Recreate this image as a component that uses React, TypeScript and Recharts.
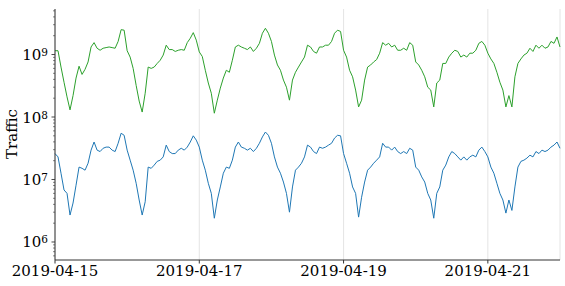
import { LineChart, Line, XAxis, YAxis, CartesianGrid } from 'recharts'

const FONT = '"DejaVu Serif", serif'
const AXIS_COLOR = '#333333'

// hourly samples, 2019-04-15 00:00 .. 2019-04-22 00:00
const GREEN_TRAFFIC = [
  1.15e9, 1.15e9, 6.3e8, 3.6e8, 2.1e8, 1.3e8, 2.2e8, 4.2e8, 6.5e8, 4.8e8, 5.8e8, 7.6e8,
  1.32e9, 1.55e9, 1.26e9, 1.17e9, 1.26e9, 1.29e9, 1.32e9, 1.29e9, 1.26e9, 1.62e9, 2.5e9, 2.45e9,
  1.15e9, 9.1e8, 6.0e8, 3.2e8, 1.8e8, 1.2e8, 2.4e8, 6.3e8, 6.0e8, 6.3e8, 7.2e8, 8.1e8,
  9.8e8, 1.41e9, 1.2e9, 1.2e9, 1.12e9, 1.17e9, 1.2e9, 1.17e9, 1.55e9, 1.82e9, 2.24e9, 1.7e9,
  1.1e9, 9.3e8, 5.6e8, 3.5e8, 2.4e8, 1.15e8, 1.86e8, 2.9e8, 4.2e8, 5.6e8, 5.2e8, 8.1e8,
  1.32e9, 1.41e9, 1.32e9, 1.26e9, 1.2e9, 1.32e9, 1.12e9, 1.26e9, 1.51e9, 2.19e9, 2.63e9, 2.19e9,
  1.62e9, 9.8e8, 6.8e8, 5.6e8, 3.9e8, 3.0e8, 1.86e8, 3.9e8, 5.2e8, 6.3e8, 7.6e8, 9.1e8,
  1.41e9, 1.32e9, 1.12e9, 1.05e9, 1.32e9, 1.32e9, 1.41e9, 1.41e9, 1.62e9, 2.19e9, 2.45e9, 2.34e9,
  1.17e9, 9.1e8, 5.6e8, 4.4e8, 2.7e8, 1.45e8, 1.86e8, 3.9e8, 6.3e8, 6.8e8, 7.6e8, 8.3e8,
  1.05e9, 1.55e9, 1.41e9, 1.51e9, 1.32e9, 1.41e9, 1.17e9, 1.17e9, 1.26e9, 1.17e9, 1.55e9, 1.41e9,
  7.6e8, 6.8e8, 5.6e8, 4.4e8, 3.0e8, 2.7e8, 1.45e8, 3.5e8, 3.9e8, 7.2e8, 7.2e8, 9.1e8,
  1.05e9, 1.17e9, 1.12e9, 9.1e8, 9.8e8, 9.1e8, 1.05e9, 1.05e9, 1.17e9, 1.51e9, 1.62e9, 1.41e9,
  1.05e9, 8.5e8, 7.2e8, 5.2e8, 3.6e8, 2.7e8, 1.45e8, 2.2e8, 1.45e8, 4.4e8, 7.2e8, 8.5e8,
  9.8e8, 1.05e9, 1.26e9, 1.12e9, 1.41e9, 1.26e9, 1.41e9, 1.26e9, 1.32e9, 1.62e9, 1.51e9, 1.91e9,
  1.32e9,
]

const BLUE_TRAFFIC = [
  2.6e7, 2.3e7, 1.26e7, 6.8e6, 6.0e6, 2.7e6, 4.2e6, 8.1e6, 1.58e7, 1.51e7, 1.41e7, 1.82e7,
  2.95e7, 3.98e7, 2.95e7, 2.8e7, 3.16e7, 3.3e7, 3.3e7, 2.95e7, 2.8e7, 3.8e7, 5.5e7, 5.1e7,
  2.95e7, 2.04e7, 1.41e7, 8.7e6, 4.7e6, 2.7e6, 4.4e6, 1.58e7, 1.51e7, 1.7e7, 1.95e7, 2.04e7,
  2.3e7, 3.55e7, 2.8e7, 2.6e7, 2.6e7, 2.95e7, 3.16e7, 2.95e7, 3.3e7, 3.98e7, 5.0e7, 4.27e7,
  3.3e7, 2.04e7, 1.41e7, 8.7e6, 6.0e6, 2.4e6, 4.7e6, 7.6e6, 1.26e7, 1.58e7, 1.51e7, 2.04e7,
  3.3e7, 3.98e7, 3.3e7, 3.16e7, 2.95e7, 3.16e7, 2.8e7, 3.16e7, 3.8e7, 4.8e7, 5.75e7, 5.1e7,
  3.8e7, 2.3e7, 1.58e7, 1.26e7, 9.1e6, 6.0e6, 3.0e6, 7.6e6, 1.41e7, 1.58e7, 1.82e7, 2.3e7,
  3.55e7, 3.3e7, 2.8e7, 2.6e7, 3.3e7, 3.16e7, 3.3e7, 3.55e7, 3.8e7, 4.6e7, 5.1e7, 5.0e7,
  2.6e7, 1.82e7, 1.26e7, 7.6e6, 6.0e6, 2.5e6, 5.2e6, 9.1e6, 1.41e7, 1.58e7, 1.82e7, 2.04e7,
  2.3e7, 3.8e7, 3.3e7, 3.3e7, 2.95e7, 3.3e7, 2.8e7, 2.6e7, 2.8e7, 2.6e7, 3.16e7, 2.95e7,
  1.58e7, 1.41e7, 1.1e7, 9.1e6, 6.0e6, 4.7e6, 2.4e6, 6.0e6, 7.6e6, 1.41e7, 1.7e7, 2.3e7,
  2.8e7, 2.6e7, 2.3e7, 2.04e7, 2.3e7, 2.04e7, 2.3e7, 2.45e7, 2.3e7, 2.95e7, 3.3e7, 2.8e7,
  2.3e7, 1.58e7, 1.26e7, 8.7e6, 6.0e6, 4.7e6, 2.9e6, 4.7e6, 3.2e6, 7.6e6, 1.58e7, 1.95e7,
  2.04e7, 2.2e7, 2.45e7, 2.3e7, 2.8e7, 2.6e7, 2.95e7, 2.8e7, 2.95e7, 3.3e7, 3.55e7, 3.98e7,
  3.16e7,
]

const DATE_TICKS = [0, 48, 96, 144]
const DATE_LABELS = ['2019-04-15', '2019-04-17', '2019-04-19', '2019-04-21']
const MAJOR_Y = [1e6, 1e7, 1e8, 1e9]
const Y_DOMAIN = [5.15e5, 5.35e9]

const data = GREEN_TRAFFIC.map((g, i) => ({ t: i, green: g, blue: BLUE_TRAFFIC[i] }))

// log ticks: majors plus 2..9 minors inside the domain
const yTicks: number[] = []
for (let e = 5; e <= 9; e++) {
  for (let m = 1; m <= 9; m++) {
    const v = m * Math.pow(10, e)
    if (v >= Y_DOMAIN[0] && v <= Y_DOMAIN[1]) yTicks.push(v)
  }
}

function LogTick(props: any) {
  const { x, y, payload } = props
  const v = payload.value
  const major = MAJOR_Y.includes(v)
  const exp = Math.round(Math.log10(v))
  return (
    <g>
      <line x1={x - (major ? 3.5 : 2)} x2={x} y1={y} y2={y} stroke={AXIS_COLOR} strokeWidth={major ? 0.9 : 0.6} />
      {major && (
        <text x={x - 7} y={y + 5.5} textAnchor="end" fontSize={15} fill="#000" fontFamily={FONT}>
          10<tspan fontSize={10.5} dy={-4}>{exp}</tspan>
        </text>
      )}
    </g>
  )
}

export default function App() {
  return (
    <div style={{ position: 'absolute', left: 0, top: 0, width: 565, height: 286 }}>
      <LineChart width={565} height={286} data={data} margin={{ top: 9, right: 5, bottom: 0, left: 0 }}>
        <CartesianGrid horizontal={false} stroke="#dddddd" strokeWidth={0.8} />
        <XAxis
          dataKey="t"
          type="number"
          domain={[0, 168]}
          ticks={DATE_TICKS}
          interval={0}
          height={26}
          tickSize={3.5}
          tickMargin={2}
          tickFormatter={(v: number) => DATE_LABELS[DATE_TICKS.indexOf(v)]}
          tick={{ fontSize: 15, fill: '#000', fontFamily: FONT }}
          tickLine={{ stroke: AXIS_COLOR }}
          axisLine={{ stroke: AXIS_COLOR }}
        />
        <XAxis
          xAxisId="top"
          orientation="top"
          type="number"
          dataKey="t"
          domain={[0, 168]}
          height={0}
          tick={false}
          tickLine={false}
          axisLine={{ stroke: AXIS_COLOR }}
        />
        <YAxis
          scale="log"
          type="number"
          domain={Y_DOMAIN}
          allowDataOverflow
          ticks={yTicks}
          interval={0}
          width={55}
          tickSize={0}
          tickMargin={0}
          tickLine={false}
          tick={<LogTick />}
          axisLine={{ stroke: AXIS_COLOR }}
        />
        <YAxis
          yAxisId="right"
          orientation="right"
          type="number"
          domain={[0, 1]}
          width={0}
          tick={false}
          tickLine={false}
          axisLine={{ stroke: AXIS_COLOR }}
        />
        <Line dataKey="green" stroke="#2ca02c" strokeWidth={1} dot={false} isAnimationActive={false} />
        <Line dataKey="blue" stroke="#1f77b4" strokeWidth={1} dot={false} isAnimationActive={false} />
      </LineChart>
      <div
        style={{
          position: 'absolute',
          left: 12,
          top: 134,
          transform: 'translate(-50%, -50%) rotate(-90deg)',
          fontFamily: FONT,
          fontSize: 15,
          lineHeight: 1,
          whiteSpace: 'nowrap',
        }}
      >
        Traffic
      </div>
    </div>
  )
}
